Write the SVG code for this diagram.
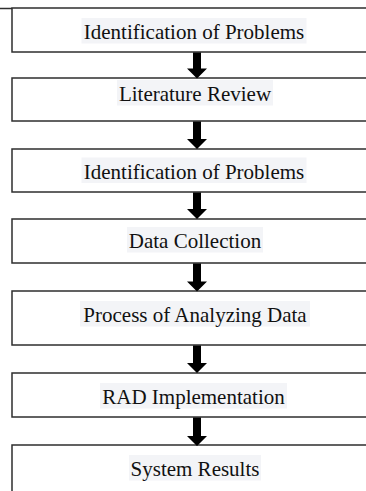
<svg xmlns="http://www.w3.org/2000/svg" width="366" height="491" viewBox="0 0 366 491">
<style>
.box{fill:#ffffff;stroke:#2e2e2e;stroke-width:1.5}
.hl{fill:#f3f4f7}
.t{font-family:"Liberation Serif","Times New Roman",serif;font-size:21px;fill:#111;text-anchor:middle}
.arr{fill:#000}
</style>
<rect width="366" height="491" fill="#ffffff"/>
<path d="M0 8.5H12" stroke="#2e2e2e" stroke-width="1.5"/>
<g id="n1"><rect class="box" x="12" y="8" width="372" height="44"/><rect class="hl" x="81.5" y="18" width="225" height="25.5"/><text class="t" x="194" y="39">Identification of Problems</text></g>
<g id="n2"><rect class="box" x="12" y="78" width="372" height="43"/><rect class="hl" x="117" y="80" width="156" height="25.5"/><text class="t" x="195" y="101">Literature Review</text></g>
<g id="n3"><rect class="box" x="12" y="149" width="372" height="43"/><rect class="hl" x="81.5" y="157.5" width="225" height="25.5"/><text class="t" x="194" y="178.5">Identification of Problems</text></g>
<g id="n4"><rect class="box" x="12" y="219" width="372" height="44"/><rect class="hl" x="127" y="227" width="136" height="25.5"/><text class="t" x="195" y="248">Data Collection</text></g>
<g id="n5"><rect class="box" x="12" y="291" width="372" height="54"/><rect class="hl" x="80" y="301" width="230" height="25.5"/><text class="t" x="195" y="322">Process of Analyzing Data</text></g>
<g id="n6"><rect class="box" x="12" y="373" width="372" height="44"/><rect class="hl" x="100" y="383" width="187" height="25.5"/><text class="t" x="193.5" y="404">RAD Implementation</text></g>
<g id="n7"><rect class="box" x="12" y="445" width="372" height="60"/><rect class="hl" x="129" y="455" width="132" height="25.5"/><text class="t" x="195" y="476">System Results</text></g>
<g id="connectors">
<polygon class="arr" points="193,52.5 201,52.5 201,68.5 207,68.5 197,78.5 187,68.5 193,68.5"/>
<polygon class="arr" points="193,121.5 201,121.5 201,139 207,139 197,149 187,139 193,139"/>
<polygon class="arr" points="193,192.5 201,192.5 201,209 207,209 197,219 187,209 193,209"/>
<polygon class="arr" points="193,263.5 201,263.5 201,281.5 207,281.5 197,291.5 187,281.5 193,281.5"/>
<polygon class="arr" points="193,345.5 201,345.5 201,363 207,363 197,373 187,363 193,363"/>
<polygon class="arr" points="193,417.5 201,417.5 201,436 207,436 197,446 187,436 193,436"/>
</g>
</svg>
